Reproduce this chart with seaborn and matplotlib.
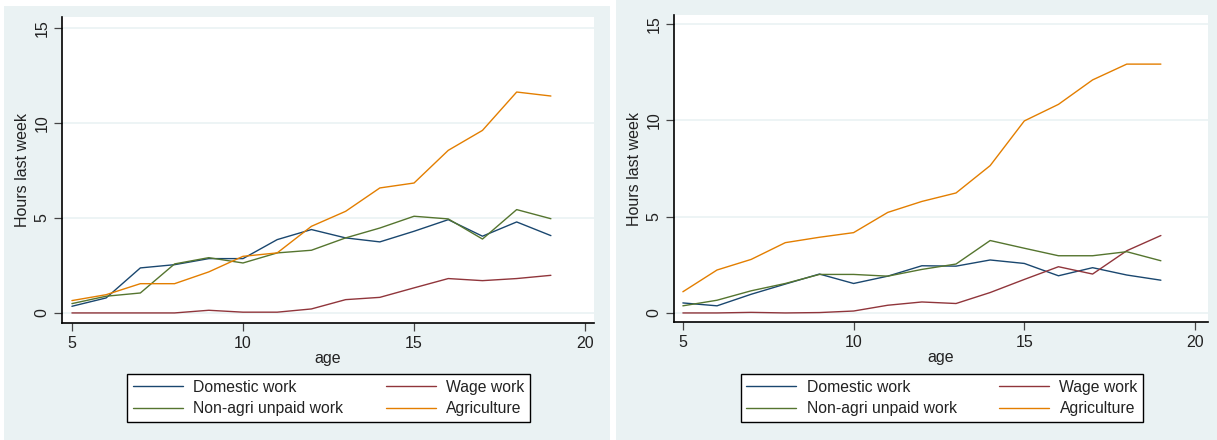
import numpy as np
import pandas as pd
import matplotlib
matplotlib.use("Agg")
import matplotlib.pyplot as plt
from matplotlib.patches import Rectangle
from matplotlib.lines import Line2D
import seaborn as sns

# ---------------- data ----------------
ages = list(range(5, 20))
series_names = ["Domestic work", "Wage work", "Non-agri unpaid work", "Agriculture"]

# left panel
left_domestic = [0.35, 0.79, 2.37, 2.54, 2.86, 2.86, 3.86, 4.39, 3.95, 3.74, 4.30, 4.91, 4.04, 4.79, 4.07]
left_wage = [0.0, 0.0, 0.0, 0.0, 0.14, 0.04, 0.04, 0.21, 0.70, 0.82, 1.32, 1.81, 1.70, 1.81, 1.98]
left_nonagri = [0.49, 0.88, 1.05, 2.58, 2.91, 2.63, 3.16, 3.30, 3.95, 4.47, 5.09, 4.95, 3.89, 5.44, 4.96]
left_agri = [0.65, 0.96, 1.54, 1.54, 2.16, 2.98, 3.16, 4.56, 5.35, 6.58, 6.84, 8.56, 9.61, 11.63, 11.42]

# right panel
right_domestic = [0.52, 0.37, 0.97, 1.50, 2.02, 1.53, 1.91, 2.45, 2.43, 2.75, 2.57, 1.93, 2.35, 1.97, 1.70]
right_wage = [0.0, 0.0, 0.03, 0.0, 0.02, 0.10, 0.40, 0.57, 0.49, 1.06, 1.74, 2.40, 2.02, 3.23, 4.02]
right_nonagri = [0.37, 0.66, 1.15, 1.53, 2.00, 2.00, 1.91, 2.26, 2.54, 3.76, 3.36, 2.97, 2.97, 3.18, 2.71]
right_agri = [1.10, 2.23, 2.78, 3.65, 3.93, 4.17, 5.22, 5.79, 6.23, 7.65, 9.97, 10.83, 12.10, 12.92, 12.92]

x_ticks = [5, 10, 15, 20]
y_ticks = [0, 5, 10, 15]
x_label = "age"
y_label = "Hours last week"

# ---------------- style ----------------
palette = {
    "Domestic work": "#1a476f",
    "Wage work": "#90353b",
    "Non-agri unpaid work": "#55752f",
    "Agriculture": "#e37e00",
}
bg = "#eaf2f3"

sns.set_style("white")
plt.rcParams["font.family"] = ["Liberation Sans", "DejaVu Sans"]

W, H = 1217, 440
fig = plt.figure(figsize=(W / 100, H / 100), dpi=100)
fig.patch.set_facecolor("white")


def px_rect(x0, y0, x1, y1):
    return [x0 / W, 1 - y1 / H, (x1 - x0) / W, (y1 - y0) / H]


# panel backgrounds
for (x0, y0, x1, y1) in [(4, 6, 610, 440), (616, 0, 1217, 440)]:
    r = px_rect(x0, y0, x1, y1)
    fig.patches.append(Rectangle((r[0], r[1]), r[2], r[3], transform=fig.transFigure,
                                 facecolor=bg, edgecolor="none", zorder=-10))


def make_df(dom, wage, nonagri, agri):
    rows = []
    for name, vals in zip(series_names, [dom, wage, nonagri, agri]):
        for a, v in zip(ages, vals):
            rows.append({"age": a, "hours": v, "series": name})
    return pd.DataFrame(rows)


panels = [
    dict(df=make_df(left_domestic, left_wage, left_nonagri, left_agri),
         ax=(62, 17, 594, 323), xlim=(4.71, 20.26), ylim=(-0.53, 15.58),
         legend=(128, 373, 529, 423)),
    dict(df=make_df(right_domestic, right_wage, right_nonagri, right_agri),
         ax=(674, 15, 1208, 322), xlim=(4.74, 20.38), ylim=(-0.47, 15.47),
         legend=(741, 373, 1143, 423)),
]

for p in panels:
    ax = fig.add_axes(px_rect(*p["ax"]))
    ax.set_zorder(1)
    ax.set_facecolor("white")
    for yv in y_ticks:
        ax.axhline(yv, color=bg, lw=1.2, zorder=0)
    sns.lineplot(data=p["df"], x="age", y="hours", hue="series", hue_order=series_names,
                 palette=palette, linewidth=1.0, ax=ax, legend=False, zorder=3)
    ax.set_xlim(*p["xlim"])
    ax.set_ylim(*p["ylim"])
    ax.set_xticks(x_ticks)
    ax.set_yticks(y_ticks)
    ax.set_xticklabels([str(t) for t in x_ticks], fontsize=11.5, color="#222222")
    ax.set_yticklabels([str(t) for t in y_ticks], fontsize=11.5, rotation=90, va="center",
                       color="#222222")
    ax.tick_params(axis="both", direction="out", length=6, width=0.9, color="#444444",
                   pad=3, left=True, bottom=True)
    ax.set_xlabel(x_label, fontsize=11.5, color="#222222", labelpad=0)
    ax.set_ylabel(y_label, fontsize=11.5, color="#222222", labelpad=3)
    for s in ["top", "right"]:
        ax.spines[s].set_visible(False)
    for s in ["left", "bottom"]:
        ax.spines[s].set_color("black")
        ax.spines[s].set_linewidth(1.2)

    # legend: row-major order as in reference
    handles = {n: Line2D([0], [0], color=palette[n], lw=1.0) for n in series_names}
    order = ["Domestic work", "Non-agri unpaid work", "Wage work", "Agriculture"]
    lx0, ly0, lx1, ly1 = p["legend"]
    cx = (lx0 + lx1) / 2 / W
    cy = 1 - (ly0 + ly1) / 2 / H
    leg = fig.legend([handles[n] for n in order], order, ncol=2, loc="center",
                     bbox_to_anchor=(cx, cy), bbox_transform=fig.transFigure,
                     frameon=True, fancybox=False, framealpha=1.0, fontsize=11.3,
                     handlelength=3.2, handletextpad=0.65, columnspacing=2.7,
                     borderpad=0.35, labelspacing=0.4)
    leg.get_frame().set_edgecolor("black")
    leg.get_frame().set_linewidth(1.0)
    leg.get_frame().set_facecolor("white")
    for t in leg.get_texts():
        t.set_color("#222222")

fig.savefig("out.png", dpi=100, facecolor="white")
